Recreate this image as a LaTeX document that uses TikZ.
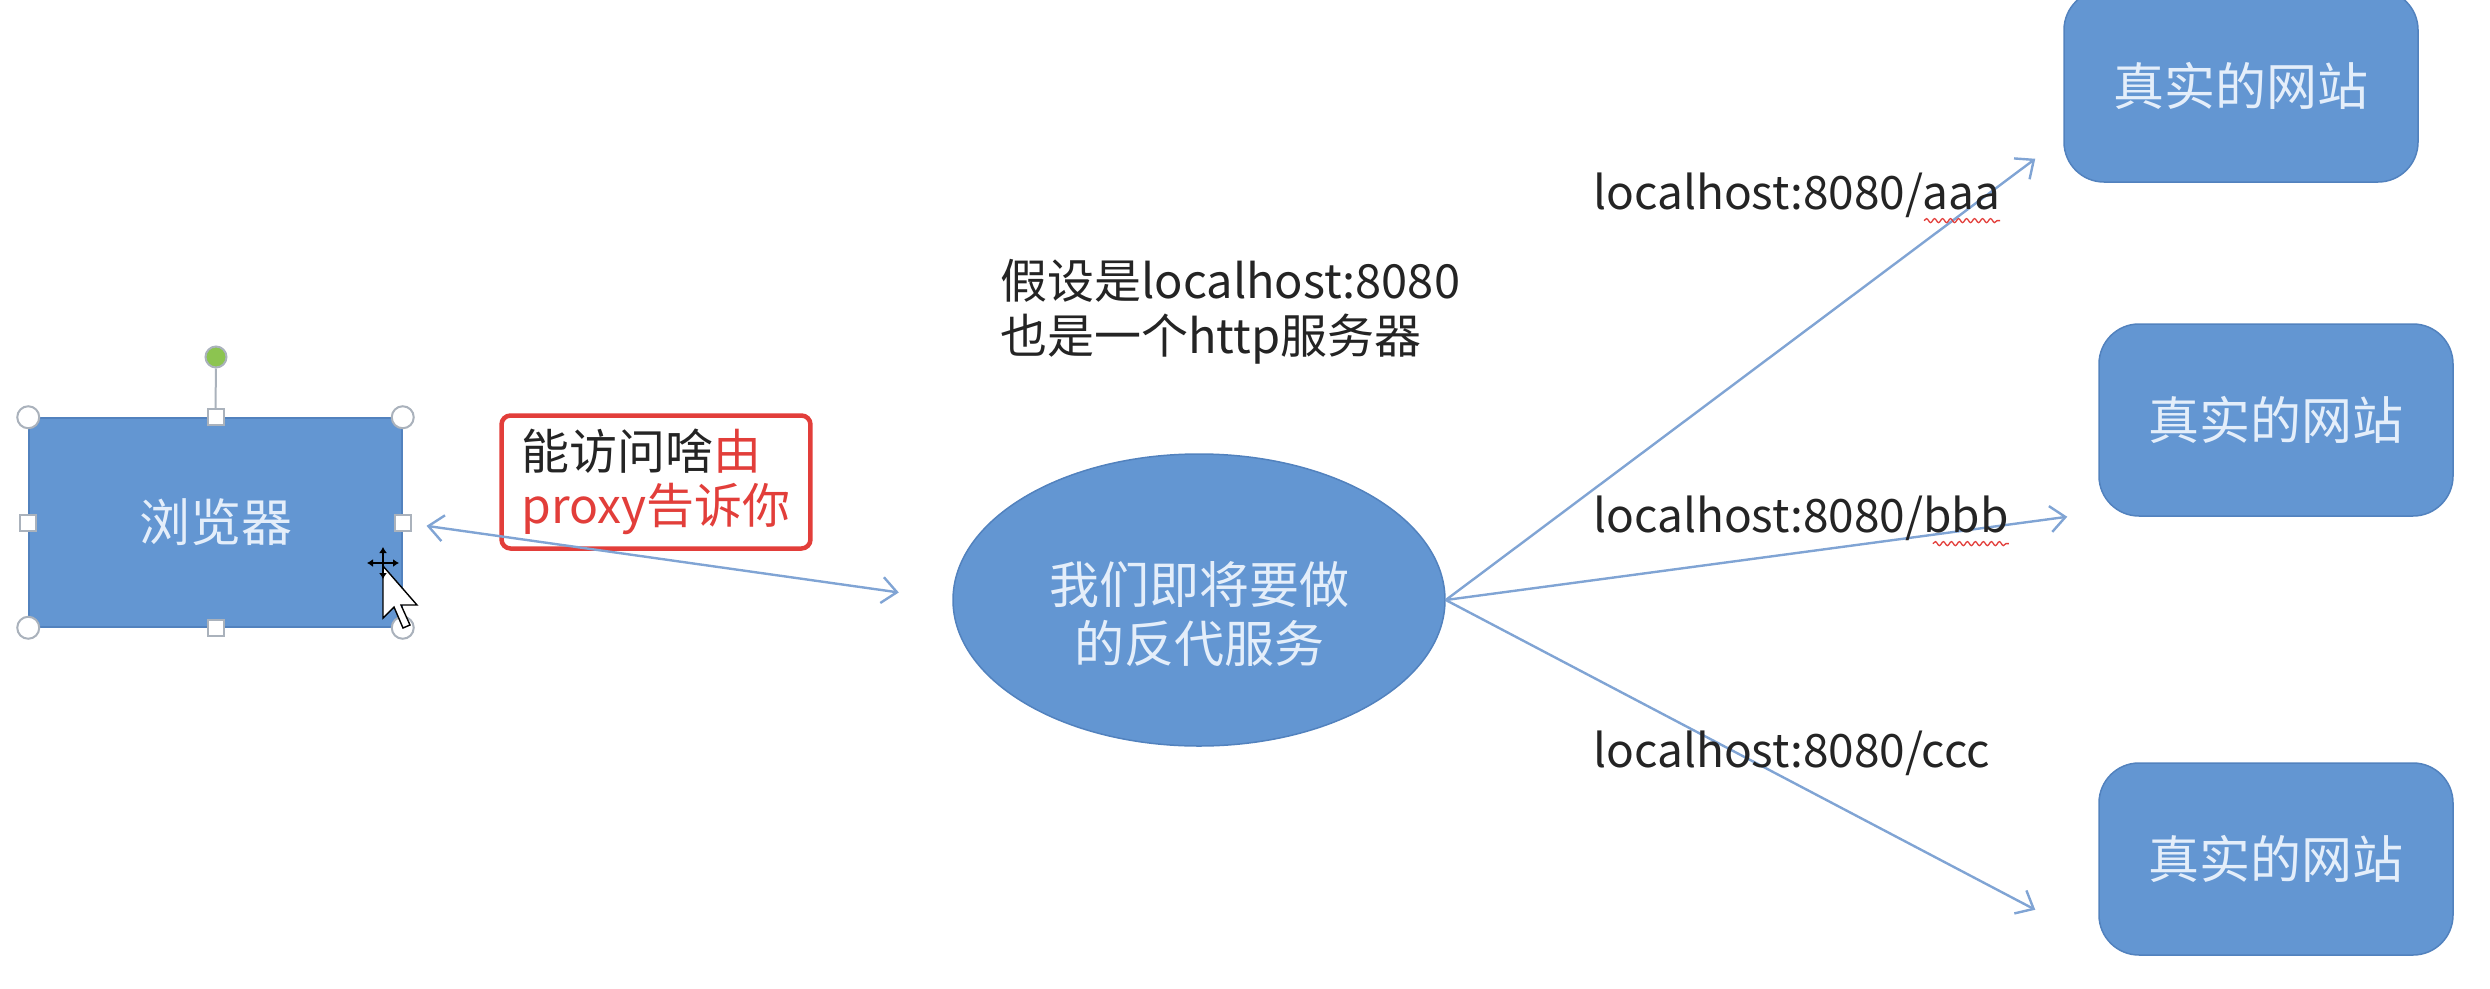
\documentclass[tikz,border=0pt]{standalone}
\usepackage{fontspec}
\setmainfont{Noto Sans CJK SC}
\usetikzlibrary{calc,positioning,shapes.geometric,arrows.meta,decorations.pathmorphing}
%
\definecolor{boxblue}{RGB}{99,150,210}
\definecolor{boxedge}{RGB}{82,130,190}
\definecolor{linkblue}{RGB}{128,164,212}
\definecolor{warnred}{RGB}{226,62,58}
\definecolor{inkgray}{RGB}{36,36,36}
\definecolor{paleink}{RGB}{228,238,250}
\definecolor{gripgray}{RGB}{170,178,188}
\definecolor{spingreen}{RGB}{140,196,80}
%
\tikzset{
  big/.style={font=\fontsize{48}{56}\selectfont},
  pane/.style={rectangle,fill=boxblue,draw=boxedge,line width=1.5pt,
    text=paleink,minimum width=373pt,minimum height=209pt,
    font=\fontsize{51}{60}\selectfont},
  site/.style={rectangle,rounded corners=40pt,fill=boxblue,draw=boxedge,
    line width=1.5pt,text=paleink,minimum width=354pt,minimum height=192pt,
    font=\fontsize{51}{60}\selectfont},
  proxyshape/.style={ellipse,fill=boxblue,draw=boxedge,line width=1.5pt,
    inner sep=0pt,minimum width=492pt,minimum height=292pt},
  proxytext/.style={text=paleink,align=center,inner sep=0pt,
    font=\fontsize{50}{59}\selectfont},
  url/.style={text=inkgray,inner sep=0pt,anchor=west,
    font=\fontsize{46}{56}\selectfont},
  hintbox/.style={big,draw=warnred,line width=4.5pt,rounded corners=9pt,
    fill=white,text=inkgray,align=left,minimum width=307pt,
    minimum height=133pt,inner xsep=20pt,font=\fontsize{48}{54}\selectfont},
  link/.style={draw=linkblue,line width=2.4pt,
    -{Straight Barb[length=15pt,width=26pt,line width=2.4pt]}},
  duplex/.style={link,{Straight Barb[length=15pt,width=26pt,line width=2.4pt]}-{Straight Barb[length=15pt,width=26pt,line width=2.4pt]}},
  grip/.style={circle,draw=gripgray,fill=white,line width=2pt,
    minimum size=22pt,inner sep=0pt},
  gripsq/.style={rectangle,draw=gripgray,fill=white,line width=2pt,
    minimum size=16pt,inner sep=0pt},
  spin/.style={circle,draw=gripgray,fill=spingreen,line width=2pt,
    minimum size=21pt,inner sep=0pt},
  squiggle/.style={draw=warnred,line width=1.3pt,
    decorate,decoration={snake,amplitude=2pt,segment length=8pt}},
}
%
\begin{document}
\begin{tikzpicture}[x=1pt,y=-1pt]
%
\useasboundingbox (0,0) rectangle (2490,988);
%
% left: browser with selection grips
\node[pane] (browser) at (215.5,522.5) {浏览器};
\node[spin] (rot) at (216,357) {};
\node[gripsq] (gN) at (browser.north) {};
\draw[draw=gripgray,line width=2pt] (rot) -- (gN);
\node[grip] (gNW) at (browser.north west) {};
\node[grip] (gNE) at (browser.north east) {};
\node[grip] (gSW) at (browser.south west) {};
\node[grip] (gSE) at (browser.south east) {};
\node[gripsq] (gS) at (browser.south) {};
\node[gripsq] (gW) at (browser.west) {};
\node[gripsq] (gE) at (browser.east) {};
%
% mouse pointer
\coordinate (ptr) at (383,566);
\draw[black,line width=1.4pt,fill=white] (ptr) -- ++(0,52) -- ++(11,-11)
  -- ++(9,21) -- ++(7,-3) -- ++(-9,-20) -- ++(16,0) -- cycle;
\draw[black,line width=2.4pt,{Latex[length=6pt,width=8pt]}-{Latex[length=6pt,width=8pt]}] ($(ptr)+(-16,-3)$) -- ($(ptr)+(16,-3)$);
\draw[black,line width=2.4pt,{Latex[length=6pt,width=8pt]}-{Latex[length=6pt,width=8pt]}] ($(ptr)+(0,-19)$) -- ($(ptr)+(0,13)$);
%
% middle: the proxy
\node[proxyshape] (proxy) at (1199,600) {};
\node[proxytext] (proxylabel) at ($(proxy.center)+(0,14)$) {我们即将要做\\的反代服务};
\node[anchor=west,align=left,text=inkgray,inner sep=0pt,
  font=\fontsize{47}{55}\selectfont] (note) at (1000,312)
  {假设是localhost:8080\\也是一个http服务器};
%
\node[hintbox] (hint) at (656,482)
  {能访问啥\textcolor{warnred}{由}\\\textcolor{warnred}{proxy告诉你}};
%
\draw[duplex,shorten <=24pt,shorten >=54pt] (browser.east) -- (proxy.west);
%
% right: the real sites
\node[site] (siteA) at (2241,86) {真实的网站};
\node[site] (siteB) at (2276,420) {真实的网站};
\node[site] (siteC) at (2276,859) {真实的网站};
%
\coordinate (hitA) at ($(siteA.south west)+(-28,-24)$);
\coordinate (hitB) at ($(siteB.south west)+(-31,0)$);
\coordinate (hitC) at ($(siteC.south west)+(-63,-46)$);
%
\draw[link] (proxy.east) -- (hitA);
\draw[link] (proxy.east) -- (hitB);
\draw[link] (proxy.east) -- (hitC);
%
\node[url] (urlA) at (1593,195) {localhost:8080/aaa};
\node[url] (urlB) at (1593,518) {localhost:8080/bbb};
\node[url] (urlC) at (1593,753) {localhost:8080/ccc};
%
\draw[squiggle] ($(urlA.south east)+(-76,3)$) -- ($(urlA.south east)+(0,3)$);
\draw[squiggle] ($(urlB.south east)+(-76,3)$) -- ($(urlB.south east)+(0,3)$);
%
\end{tikzpicture}
\end{document}
